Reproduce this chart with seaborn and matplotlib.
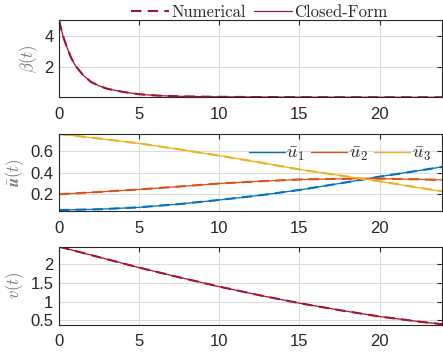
import numpy as np
import pandas as pd
import matplotlib
matplotlib.use("Agg")
import matplotlib.pyplot as plt
import seaborn as sns

# values
t_beta = [0, 0.25, 0.5, 0.75, 1, 1.5, 2, 2.5, 3, 4, 5, 6, 7, 8, 10, 12, 15, 20, 24]
beta = [5.04, 4.0, 3.25, 2.6, 2.1, 1.45, 1.0, 0.75, 0.56, 0.35, 0.2, 0.12, 0.08, 0.055, 0.03, 0.018, 0.01, 0.003, 0.0]

t_u = [0, 2.5, 5, 7.5, 10, 12.5, 15, 17.5, 20, 22.5, 24]
u1 = [0.055, 0.062, 0.08, 0.11, 0.148, 0.19, 0.24, 0.3, 0.363, 0.42, 0.455]
u2 = [0.2, 0.222, 0.245, 0.272, 0.30, 0.32, 0.337, 0.343, 0.345, 0.338, 0.333]
u3 = [0.757, 0.715, 0.67, 0.615, 0.557, 0.495, 0.43, 0.375, 0.32, 0.26, 0.225]

t_v = [0, 2.5, 5, 7.5, 10, 12.5, 15, 17.5, 20, 22.5, 24]
v = [2.47, 2.19, 1.91, 1.65, 1.40, 1.17, 0.957, 0.77, 0.60, 0.46, 0.39]

red = "#A2142F"
u_colors = ["#0072BD", "#D95319", "#EDB120"]
u_labels = [r"$\bar{u}_1$", r"$\bar{u}_2$", r"$\bar{u}_3$"]

sns.set_style("whitegrid")
plt.rcParams['font.family'] = ['Liberation Sans', 'DejaVu Sans']
plt.rcParams['mathtext.fontset'] = 'cm'
plt.rcParams['xtick.direction'] = 'in'
plt.rcParams['ytick.direction'] = 'in'

fig = plt.figure(figsize=(4.43, 3.56), dpi=100)
W, H = 443, 356
def box(top, bottom):
    return [59 / W, 1 - bottom / H, 1 - 60 / W, (bottom - top) / H]

ax1 = fig.add_axes(box(20, 97.3))
ax2 = fig.add_axes(box(134, 211))
ax3 = fig.add_axes(box(246.7, 324.7))

lw_num, lw_cf = 1.5, 0.9
dash = (5, 3)

df_b = pd.DataFrame({'t': t_beta, 'beta': beta})
sns.lineplot(data=df_b, x='t', y='beta', ax=ax1, color=red, lw=lw_num,
             linestyle='--', label='Numerical')
sns.lineplot(data=df_b, x='t', y='beta', ax=ax1, color=red, lw=lw_cf, label='Closed-Form')
ax1.lines[0].set_dashes(dash)

df_u = pd.DataFrame({'t': t_u, 'u1': u1, 'u2': u2, 'u3': u3})
handles = []
for col, c, lab in zip(['u1', 'u2', 'u3'], u_colors, u_labels):
    sns.lineplot(data=df_u, x='t', y=col, ax=ax2, color=c, lw=lw_num, linestyle='--')
    ax2.lines[-1].set_dashes(dash)
    sns.lineplot(data=df_u, x='t', y=col, ax=ax2, color=c, lw=lw_cf)
    handles.append(plt.Line2D([], [], color=c, lw=1.0, label=lab))

df_v = pd.DataFrame({'t': t_v, 'v': v})
sns.lineplot(data=df_v, x='t', y='v', ax=ax3, color=red, lw=lw_num, linestyle='--')
ax3.lines[-1].set_dashes(dash)
sns.lineplot(data=df_v, x='t', y='v', ax=ax3, color=red, lw=lw_cf)

ax1.set_ylim(0, 5.05)
ax1.set_yticks([2, 4])
ax2.set_ylim(0.046, 0.757)
ax2.set_yticks([0.2, 0.4, 0.6])
ax3.set_ylim(0.38, 2.47)
ax3.set_yticks([0.5, 1, 1.5, 2])
ax3.set_yticklabels(['0.5', '1', '1.5', '2'])

ylabels = [r"$\beta(t)$", r"$\bar{\boldsymbol{u}}(t)$", r"$v(t)$"]
for ax, yl in zip([ax1, ax2, ax3], ylabels):
    ax.set_xlim(0, 23.9)
    ax.set_xticks([0, 5, 10, 15, 20])
    ax.set_xlabel('')
    ax.set_ylabel(yl, fontsize=12, color='#777777', labelpad=3)
    ax.grid(True, color='#dcdcdc', lw=0.8)
    ax.set_facecolor('white')
    for s in ax.spines.values():
        s.set_visible(True)
        s.set_color('#262626')
        s.set_linewidth(0.8)
    ax.tick_params(axis='both', which='both', labelsize=12, colors='#262626',
                   length=3.5, width=0.8, top=True, right=True, direction='in')
    ax.tick_params(axis='x', pad=7)
    ax.tick_params(axis='y', pad=4)
    if ax.get_legend() is not None:
        ax.get_legend().remove()

h1, l1 = ax1.get_legend_handles_labels()
fig.legend(h1, l1, loc='upper center', bbox_to_anchor=(0.585, 1.03), ncol=2,
           frameon=False, prop={'family': 'cmr10', 'size': 12}, handlelength=2.3,
           handletextpad=0.1, columnspacing=0.5)

ax2.legend(handles=handles, loc='center right', bbox_to_anchor=(1.0, 0.74), ncol=3,
           frameon=False, fontsize=13, handlelength=2.0, handletextpad=0.1,
           columnspacing=0.35, borderaxespad=0.2)

fig.savefig('out.png', dpi=100)
